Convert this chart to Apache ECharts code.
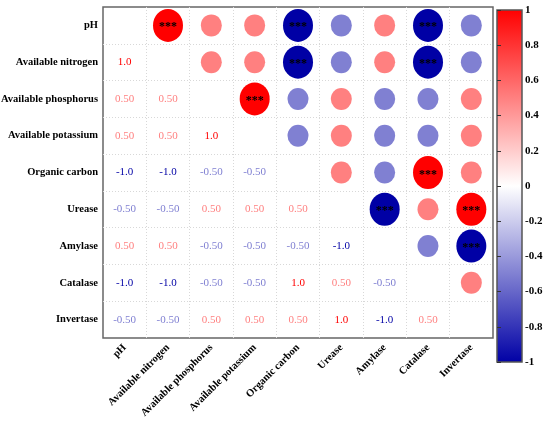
<!DOCTYPE html>
<html>
<head>
<meta charset="utf-8">
<script src="https://cdn.jsdelivr.net/npm/echarts@6/dist/echarts.min.js"></script>
<style>html,body{margin:0;padding:0;background:#fff}#c{width:550px;height:430px}</style>
</head>
<body>
<div id="c"></div>
<script>
// Variables (row/column order, top to bottom / left to right)
const labels = ['pH','Available nitrogen','Available phosphorus','Available potassium','Organic carbon','Urease','Amylase','Catalase','Invertase'];
// Lower-triangle correlation rows (row i, columns 0..i-1)
const rowAvailableNitrogen   = [1.0];
const rowAvailablePhosphorus = [0.5, 0.5];
const rowAvailablePotassium  = [0.5, 0.5, 1.0];
const rowOrganicCarbon       = [-1.0, -1.0, -0.5, -0.5];
const rowUrease              = [-0.5, -0.5, 0.5, 0.5, 0.5];
const rowAmylase             = [0.5, 0.5, -0.5, -0.5, -0.5, -1.0];
const rowCatalase            = [-1.0, -1.0, -0.5, -0.5, 1.0, 0.5, -0.5];
const rowInvertase           = [-0.5, -0.5, 0.5, 0.5, 0.5, 1.0, -1.0, 0.5];
// Colour-bar ticks
const barTicks = [1, 0.8, 0.6, 0.4, 0.2, 0, -0.2, -0.4, -0.6, -0.8, -1];

const lowerRows = [[], rowAvailableNitrogen, rowAvailablePhosphorus, rowAvailablePotassium,
  rowOrganicCarbon, rowUrease, rowAmylase, rowCatalase, rowInvertase];

const FONT = 'Liberation Serif';
const stops = [[-1,[0,0,165]],[0,[255,255,255]],[1,[255,0,0]]];
function colorFor(v){
  let a = stops[0], b = stops[1];
  if (v > 0) { a = stops[1]; b = stops[2]; }
  const t = (v - a[0]) / (b[0] - a[0]);
  const c = a[1].map((x,k)=>Math.round(x + (b[1][k]-x)*t));
  return 'rgb(' + c.join(',') + ')';
}

const circleData = [];
const textData = [];
for (let i = 1; i < labels.length; i++) {
  lowerRows[i].forEach((r, j) => {
    textData.push({ value: [j, i, r], label: { color: colorFor(r) } });
    circleData.push([i, j, r]);
  });
}

const splitStyle = { color: '#d8d8d8', type: [1, 2], width: 1 };

const chart = echarts.init(document.getElementById('c'));
chart.setOption({
  animation: false,
  backgroundColor: '#fff',
  grid: [
    { left: 103, top: 7, width: 390, height: 331, outerBoundsMode: 'none', containLabel: false,
      show: true, borderColor: '#666', borderWidth: 1.5, backgroundColor: '#fff' },
    { left: 497, top: 10, width: 25, height: 352, outerBoundsMode: 'none', containLabel: false,
      show: true, borderColor: '#555', borderWidth: 1.5,
      backgroundColor: { type: 'linear', x: 0, y: 0, x2: 0, y2: 1,
        colorStops: [{ offset: 0, color: '#ff0000' }, { offset: 0.5, color: '#ffffff' }, { offset: 1, color: 'rgb(0,0,165)' }] } }
  ],
  xAxis: [
    { gridIndex: 0, type: 'category', data: labels, position: 'bottom',
      axisLine: { show: false }, axisTick: { show: false },
      axisLabel: { rotate: 45, interval: 0, margin: 8, fontFamily: FONT, fontWeight: 'bold', fontSize: 10.5, color: '#000' },
      splitLine: { show: true, interval: 0, showMinLine: false, showMaxLine: false, lineStyle: splitStyle } },
    { gridIndex: 1, type: 'value', show: false, min: 0, max: 1 }
  ],
  yAxis: [
    { gridIndex: 0, type: 'category', data: labels, inverse: true,
      axisLine: { show: false }, axisTick: { show: false },
      axisLabel: { interval: 0, margin: 5, fontFamily: FONT, fontWeight: 'bold', fontSize: 10.5, color: '#000' },
      splitLine: { show: true, interval: 0, showMinLine: false, showMaxLine: false, lineStyle: splitStyle } },
    { gridIndex: 1, type: 'value', position: 'right', min: -1, max: 1, interval: 0.2,
      axisLine: { show: false },
      axisTick: { show: true, length: 4, lineStyle: { color: '#333' } },
      axisLabel: { margin: 3, fontFamily: FONT, fontWeight: 'bold', fontSize: 11, color: '#000',
        formatter: v => { const m = barTicks.find(t => Math.abs(t - v) < 1e-6); return m === undefined ? '' : String(m); } },
      splitLine: { show: false } }
  ],
  visualMap: {
    show: false, type: 'continuous', seriesIndex: 0, dimension: 2, min: -1, max: 1,
    inRange: { color: ['rgb(0,0,165)', '#ffffff', '#ff0000'] }
  },
  series: [
    { type: 'scatter', xAxisIndex: 0, yAxisIndex: 0, data: circleData, symbol: 'circle',
      symbolSize: v => { const a = Math.abs(v[2]); return [12 + 18 * a, 11 + 22 * a]; },
      itemStyle: { opacity: 1 },
      silent: true,
      label: { show: true, position: 'inside', color: '#000', fontFamily: FONT, fontWeight: 'bold', fontSize: 12,
        offset: [0, 2],
        formatter: p => Math.abs(p.value[2]) >= 0.999 ? '***' : '' } },
    { type: 'scatter', xAxisIndex: 0, yAxisIndex: 0, data: textData, symbolSize: 0, silent: true,
      itemStyle: { opacity: 1 },
      label: { show: true, position: 'inside', fontFamily: FONT, fontSize: 11,
        formatter: p => { const r = p.value[2]; return Math.abs(r) >= 0.999 ? r.toFixed(1) : r.toFixed(2); } } }
  ]
});
</script>
</body>
</html>
